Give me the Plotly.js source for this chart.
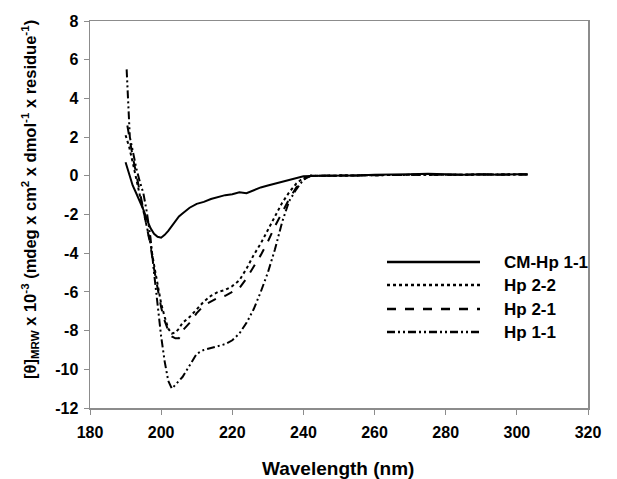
<!DOCTYPE html>
<html>
<head>
<meta charset="utf-8">
<script src="https://cdn.plot.ly/plotly-3.0.1.min.js"></script>
<style>html,body{margin:0;padding:0;background:#fff;}#chart{width:617px;height:479px;}</style>
</head>
<body>
<div id="chart"></div>
<script>
// Series names
const seriesNames = ["CM-Hp 1-1", "Hp 2-2", "Hp 2-1", "Hp 1-1"];

// CM-Hp 1-1 (solid)
const cmX = [190, 191, 192, 193, 194, 195, 196, 197, 198, 199, 200, 201, 202, 203, 204, 205, 206, 207, 208, 210, 212, 214, 216, 218, 220, 222, 224, 226, 228, 230, 232, 234, 236, 238, 240, 245, 250, 255, 260, 265, 270, 275, 280, 285, 290, 295, 300, 303];
const cmY = [0.7, 0.1, -0.5, -0.9, -1.3, -1.75, -2.25, -2.7, -3.0, -3.15, -3.2, -3.05, -2.85, -2.6, -2.3, -2.1, -1.95, -1.8, -1.65, -1.45, -1.35, -1.2, -1.1, -1.0, -0.95, -0.85, -0.9, -0.75, -0.6, -0.5, -0.4, -0.3, -0.2, -0.1, -0.02, 0.0, 0.0, 0.02, 0.05, 0.05, 0.08, 0.1, 0.08, 0.05, 0.08, 0.05, 0.08, 0.08];

// Hp 2-2 (dotted)
const hp22X = [190, 191, 192, 193, 194, 195, 196, 197, 198, 199, 200, 201, 202, 203, 204, 205, 206, 208, 210, 212, 214, 216, 218, 220, 222, 224, 226, 228, 230, 232, 234, 236, 238, 240, 242, 245, 250, 260, 270, 280, 290, 300, 303];
const hp22Y = [2.1, 1.5, 0.7, -0.2, -1.0, -1.8, -2.6, -3.5, -4.6, -5.7, -6.6, -7.3, -7.9, -8.15, -8.1, -7.9, -7.6, -7.3, -6.9, -6.5, -6.2, -6.0, -5.9, -5.7, -5.4, -4.8, -4.1, -3.5, -2.8, -2.1, -1.4, -0.85, -0.4, -0.1, 0.0, 0.0, 0.02, 0.03, 0.05, 0.05, 0.06, 0.07, 0.07];

// Hp 2-1 (dashed)
const hp21X = [190.5, 191, 192, 193, 194, 195, 196, 197, 198, 199, 200, 201, 202, 203, 204, 205, 206, 208, 210, 212, 214, 216, 218, 220, 222, 224, 226, 228, 230, 232, 234, 236, 238, 240, 242, 245, 250, 260, 270, 280, 290, 300, 303];
const hp21Y = [2.6, 2.0, 1.0, 0.1, -0.8, -1.7, -2.6, -3.6, -4.8, -5.9, -6.8, -7.5, -8.0, -8.3, -8.4, -8.4, -8.0, -7.6, -7.1, -6.7, -6.5, -6.3, -6.2, -6.0, -5.8, -5.3, -4.7, -4.1, -3.4, -2.6, -1.9, -1.2, -0.6, -0.2, 0.0, 0.0, 0.02, 0.03, 0.05, 0.05, 0.06, 0.07, 0.07];

// Hp 1-1 (dash-dot-dot)
const hp11X = [190.3, 190.8, 191.2, 192, 193, 194, 195, 196, 197, 198, 199, 200, 201, 202, 203, 204, 205, 206, 208, 210, 212, 214, 216, 218, 220, 222, 224, 226, 228, 230, 232, 234, 236, 238, 240, 242, 245, 250, 260, 270, 280, 290, 300, 303];
const hp11Y = [5.5, 3.2, 2.0, 1.3, 0.4, -0.3, -0.9, -1.9, -3.2, -5.0, -6.8, -8.3, -9.6, -10.6, -11.0, -10.8, -10.6, -10.4, -9.8, -9.2, -9.0, -8.9, -8.8, -8.7, -8.5, -8.15, -7.6, -6.9, -6.0, -5.0, -3.8, -2.4, -1.3, -0.7, -0.2, 0.0, 0.0, 0.02, 0.03, 0.05, 0.05, 0.06, 0.07, 0.07];

// Tick values
const xTicks = [180, 200, 220, 240, 260, 280, 300, 320];
const yTicks = [-12, -10, -8, -6, -4, -2, 0, 2, 4, 6, 8];

const dashes = ["solid", "dot", "dash", "8px,3px,2px,3px,2px,3px"];
const xs = [cmX, hp22X, hp21X, hp11X];
const ys = [cmY, hp22Y, hp21Y, hp11Y];

const FONT = "Liberation Sans, Arial, Helvetica, sans-serif";

const traces = seriesNames.map((n, i) => ({
  type: "scatter", mode: "lines", name: n,
  x: xs[i], y: ys[i],
  line: {color: "#000", width: 2, dash: dashes[i]},
  showlegend: false, hoverinfo: "skip"
}));

// Legend built from series names (paper coordinates)
const legYpx = [262, 285, 309, 332];
const py = p => (408 - p) / 387;
const px = p => (p - 90) / 498;
const shapes = [];
const annotations = [];
seriesNames.forEach((n, i) => {
  shapes.push({type: "line", xref: "paper", yref: "paper", x0: px(387), x1: px(480), y0: py(legYpx[i]), y1: py(legYpx[i]),
    line: {color: "#000", width: 2.5, dash: dashes[i]}});
  annotations.push({xref: "paper", yref: "paper", x: px(502), y: py(legYpx[i]), xanchor: "left", yanchor: "middle",
    text: n, showarrow: false, font: {family: FONT, size: 17, color: "#000", weight: "bold"}});
});
annotations.push({xref: "paper", yref: "paper", x: px(338), y: py(469), xanchor: "center", yanchor: "middle",
  text: "Wavelength (nm)", showarrow: false, font: {family: FONT, size: 19, color: "#000", weight: "bold"}});
annotations.push({xref: "paper", yref: "paper", x: px(30), y: py(200), xanchor: "center", yanchor: "middle",
  textangle: -90,
  text: "[θ]<sub>MRW</sub> x 10<sup>-3</sup> (mdeg x cm<sup>2</sup> x dmol<sup>-1</sup> x residue<sup>-1</sup>)",
  showarrow: false, font: {family: FONT, size: 16.5, color: "#000", weight: "bold"}});

const axisCommon = {
  showgrid: false, zeroline: false, showline: true, mirror: true,
  linecolor: "#8c8c8c", linewidth: 1.5,
  ticks: "outside", ticklen: 5, tickwidth: 1, tickcolor: "#8c8c8c",
  tickfont: {family: FONT, size: 16, color: "#000", weight: "bold"}
};

const layout = {
  width: 617, height: 479,
  margin: {l: 90, r: 29, t: 21, b: 71},
  paper_bgcolor: "#fff", plot_bgcolor: "#fff",
  showlegend: false,
  xaxis: Object.assign({}, axisCommon, {range: [180, 320], tickvals: xTicks, ticktext: xTicks.map(String), ticklabelstandoff: 4}),
  yaxis: Object.assign({}, axisCommon, {range: [-12, 8], tickvals: yTicks, ticktext: yTicks.map(String), ticklabelstandoff: 2}),
  shapes: shapes,
  annotations: annotations
};

Plotly.newPlot("chart", traces, layout, {staticPlot: true, displayModeBar: false});
</script>
</body>
</html>
